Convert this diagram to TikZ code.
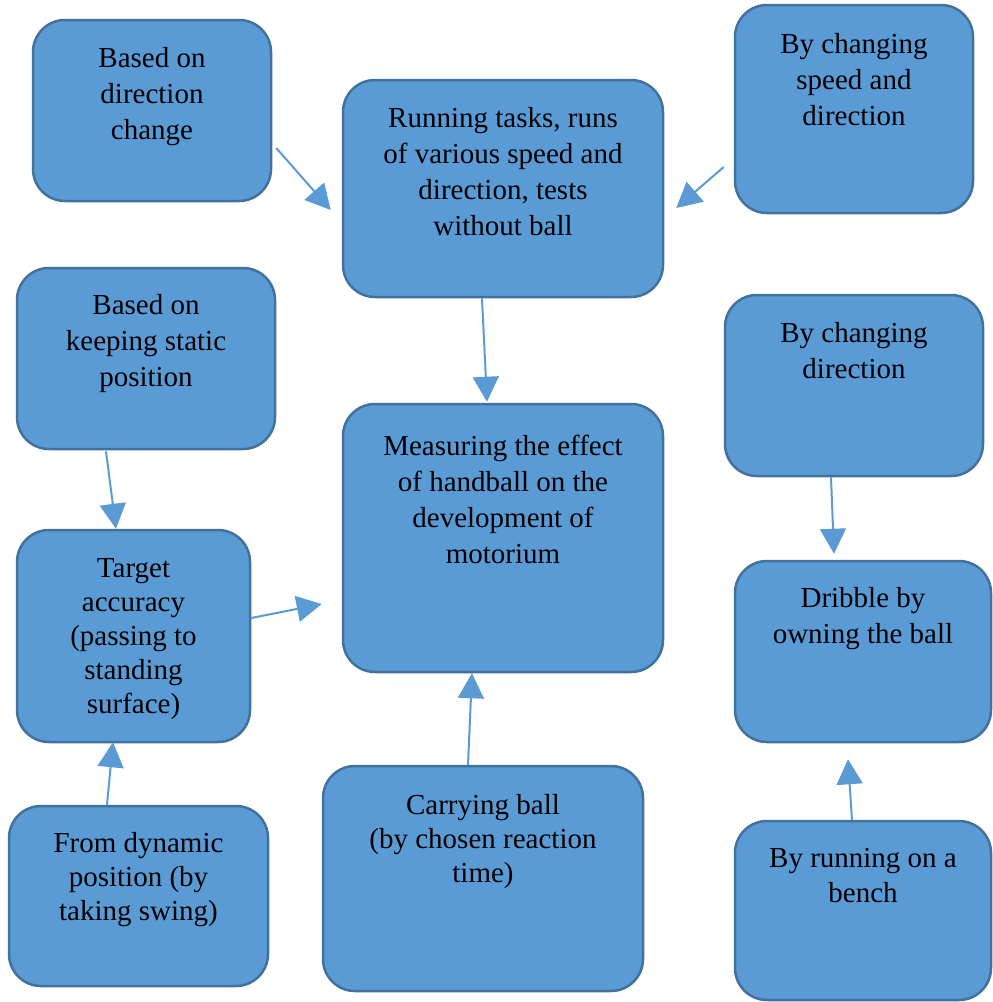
\documentclass[tikz,border=0pt]{standalone}
\usepackage{fontspec}
\setmainfont{Liberation Serif}
\usetikzlibrary{arrows.meta,calc}
\definecolor{boxfill}{HTML}{5B9BD5}
\definecolor{boxline}{HTML}{41719C}
\definecolor{arrowc}{HTML}{5B9BD5}
\tikzset{
  box/.style={draw=boxline, fill=boxfill, line width=2.5pt, rounded corners=32pt, inner sep=0pt},
  txt/.style={anchor=north, align=center, inner sep=0pt, text=black, font=\fontsize{29}{36}\selectfont},
  txtb/.style={txt, font=\fontsize{29}{34}\selectfont},
  conn/.style={draw=arrowc, line width=2pt, -{Triangle[length=25pt,width=26pt]}}
}
\begin{document}
\begin{tikzpicture}[x=1pt,y=-1pt]
\useasboundingbox (0,0) rectangle (993,1002);
% boxes
\node[box, minimum width=238pt, minimum height=181pt] (b1) at (152,110.5) {};
\node[box, minimum width=320pt, minimum height=217pt] (b2) at (503,188.5) {};
\node[box, minimum width=238pt, minimum height=208pt] (b3) at (854,109) {};
\node[box, minimum width=258pt, minimum height=181pt] (b4) at (146,358.5) {};
\node[box, minimum width=320pt, minimum height=268pt] (b5) at (503,538) {};
\node[box, minimum width=258pt, minimum height=181pt] (b6) at (854,385.5) {};
\node[box, minimum width=233pt, minimum height=212pt] (b7) at (133.5,636) {};
\node[box, minimum width=256pt, minimum height=181pt] (b8) at (863,651.5) {};
\node[box, minimum width=259pt, minimum height=180pt] (b9) at (138.5,896) {};
\node[box, minimum width=320pt, minimum height=225pt] (b10) at (483,878.5) {};
\node[box, minimum width=256pt, minimum height=179pt] (b11) at (863,910.5) {};
% texts
\node[txt] (t1) at (152,47.5) {Based on\\direction\\change};
\node[txt] (t2) at (503,107.5) {Running tasks, runs\\of various speed and\\direction, tests\\without ball};
\node[txt] (t3) at (854,33.5) {By changing\\speed and\\direction};
\node[txt] (t4) at (146,294.5) {Based on\\keeping static\\position};
\node[txt] (t5) at (503,434.5) {Measuring the effect\\of handball on the\\development of\\motorium};
\node[txt] (t6) at (854,322.5) {By changing\\direction};
\node[txtb] (t7) at (133.5,558.5) {Target\\accuracy\\(passing to\\standing\\surface)};
\node[txt] (t8) at (863,587.5) {Dribble by\\owning the ball};
\node[txtb] (t9) at (138.5,832.5) {From dynamic\\position (by\\taking swing)};
\node[txtb] (t10) at (483,794.5) {Carrying ball\\(by chosen reaction\\time)};
\node[txt, font=\fontsize{29}{35}\selectfont] (t11) at (863,848.5) {By running on a\\bench};
% connectors
\draw[conn] ($(b1.east)+(4,37.5)$) -- ($(b2.west)+(-11,21.5)$);
\draw[conn] ($(b3.west)+(-10,58)$) -- ($(b2.east)+(12,19.5)$);
\draw[conn] ($(b2.south)+(-21,0)$) -- ($(b5.north)+(-16,-1)$);
\draw[conn] ($(b4.south)+(-40,1)$) -- ($(b7.north)+(-17.5,0)$);
\draw[conn] ($(b7.east)+(0,-18)$) -- ($(b5.west)+(-20,66)$);
\draw[conn] ($(b9.north)+(-31.5,0)$) -- ($(b7.south)+(-20.5,-1)$);
\draw[conn] ($(b10.north)+(-15,0)$) -- ($(b5.south)+(-31,0)$);
\draw[conn] ($(b6.south)+(-23,0)$) -- ($(b8.north)+(-29,-6)$);
\draw[conn] ($(b11.north)+(-11,0)$) -- ($(b8.south)+(-15,16)$);
\end{tikzpicture}
\end{document}
